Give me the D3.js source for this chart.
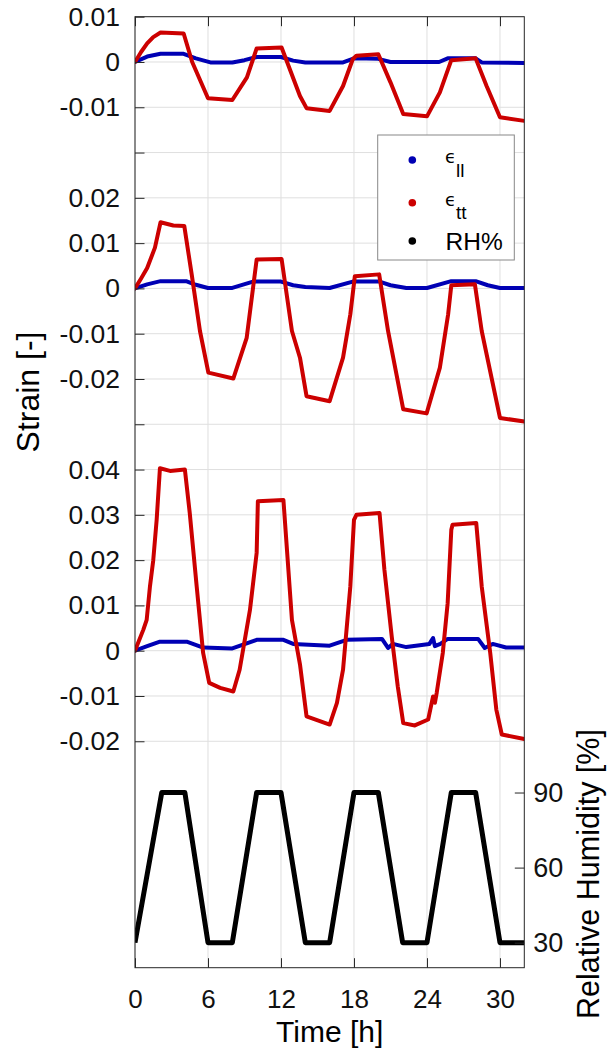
<!DOCTYPE html>
<html>
<head>
<meta charset="utf-8">
<script src="https://cdn.jsdelivr.net/npm/d3@7"></script>
<style>
  html, body { margin: 0; padding: 0; background: #fff; }
  svg { display: block; }
  text { font-family: "Liberation Sans", Arial, Helvetica, sans-serif; }
</style>
</head>
<body>
<svg id="chart" width="607" height="1052"></svg>
<script>
// ---- measured strain (time [h], strain [-]) for three specimens ----
const spec1_ll = [[0,0],[1,0.0012],[2.1,0.0018],[4,0.0018],[5,0.0008],[6.2,-0.0001],[8,-0.0001],[9,0.0004],[10,0.0011],[12,0.0011],[13,0.0003],[14,-0.0001],[17.1,-0.0001],[18,0.0008],[20,0.0007],[21,0],[25,0],[25.7,0.0008],[28,0.0008],[28.5,-0.0001],[32,-0.0002]];
const spec1_tt = [[0,0],[0.5,0.0022],[1,0.0041],[1.5,0.0055],[2.1,0.0065],[4,0.0063],[4.7,0],[6,-0.008],[8,-0.0084],[9.2,-0.0034],[10,0.003],[12.05,0.0032],[13.56,-0.0075],[14.1,-0.0102],[16,-0.0108],[17.1,-0.0053],[17.9,0.0006],[18.2,0.0014],[20,0.0017],[21,-0.0045],[22.05,-0.0115],[24,-0.012],[25.06,-0.0067],[26,0.0004],[28,0.0008],[28.9,-0.0053],[30,-0.0122],[32,-0.013]];

const spec2_ll = [[0,0],[1,0.0009],[2.1,0.0016],[4.2,0.0016],[5,0.0008],[6,0.0001],[8,0.0001],[9.7,0.0015],[12,0.0015],[13,0.0007],[14,0.0003],[16,0.0001],[17.9,0.0015],[20.1,0.0015],[21,0.0007],[22.3,0.0001],[24,0.0001],[26,0.0016],[28,0.0016],[29,0.0007],[30,0.0001],[32,0.0001]];
const spec2_tt = [[0,0],[0.5,0.0022],[1,0.0045],[1.64,0.009],[2.1,0.0146],[3.15,0.0139],[4.05,0.0138],[4.66,0.0031],[5.34,-0.0094],[6.03,-0.0186],[8.08,-0.0199],[9.18,-0.0109],[10,0.0064],[12.05,0.0065],[12.9,-0.0094],[13.56,-0.0153],[14.1,-0.0238],[16,-0.0249],[17.1,-0.0153],[17.7,-0.0057],[18.07,0.0027],[20.07,0.0031],[20.8,-0.0094],[22.05,-0.0267],[23.97,-0.0276],[25.06,-0.0175],[25.74,-0.0057],[26,0.0007],[27.94,0.0009],[28.5,-0.0094],[30,-0.0286],[32,-0.0294]];

const spec3_ll = [[0,0],[1,0.001],[2.05,0.002],[4.25,0.002],[5.6,0.0007],[8,0.0005],[10,0.0024],[12.2,0.0024],[13,0.0015],[16,0.0011],[17.4,0.0024],[20.3,0.0026],[20.8,0.0006],[21.2,0.0015],[22.3,0.0008],[24.2,0.0015],[24.5,0.0028],[24.65,0.001],[25.1,0.0015],[25.7,0.0026],[28.2,0.0026],[28.75,0.0006],[29.4,0.0015],[30.5,0.0007],[32,0.0007]];
const spec3_tt = [[0,0],[0.68,0.0046],[0.96,0.0068],[1.23,0.0142],[1.5,0.02],[1.78,0.0289],[2.05,0.0403],[2.88,0.0397],[4.1,0.04],[4.5,0.0304],[5.07,0.0142],[5.6,-0.0005],[6.1,-0.0071],[7,-0.0082],[8.08,-0.009],[8.6,-0.0042],[9.45,0.009],[10,0.0216],[10.1,0.033],[12.2,0.0333],[12.9,0.0068],[13.56,-0.003],[14.1,-0.0145],[16,-0.0163],[16.6,-0.0115],[17.1,-0.0042],[17.7,0.0142],[18,0.0289],[18.2,0.03],[20.1,0.0304],[20.5,0.0179],[21.1,0.0032],[21.6,-0.0079],[22.05,-0.016],[23,-0.0165],[24.1,-0.0152],[24.5,-0.0101],[24.65,-0.0115],[24.8,-0.0093],[25.3,-0.0005],[25.7,0.0105],[26,0.0267],[26.1,0.0278],[28.05,0.0282],[28.5,0.0142],[29.2,-0.0005],[29.7,-0.013],[30.15,-0.0185],[32,-0.0195]];

// ---- relative humidity program (time [h], RH [%]) ----
const rhProgram = [[0,30],[2.2,90],[4.1,90],[6,30],[8,30],[10,90],[12,90],[14,30],[16,30],[18,90],[20,90],[22,30],[24,30],[26,90],[28,90],[30,30],[32,30]];

// ---- axes ----
const timeTicks = [0, 6, 12, 18, 24, 30];
const rhTicks = [30, 60, 90];
// strain tick labels on the shared left axis, top to bottom (stacked specimens)
const strainTickLabels = ["0.01","0","-0.01","","0.02","0.01","0","-0.01","-0.02","","0.04","0.03","0.02","0.01","0","-0.01","-0.02"];
// vertical shift applied to each specimen so the three records stack on one axis
const stackShift = [0.13, 0.08, 0];

const legendItems = [
  { key: "ll", color: "#0000b4" },
  { key: "tt", color: "#cc0000" },
  { key: "RH%", color: "#000000" }
];

// ---- layout ----
const L = 135, R = 524.3, T = 16.7, B = 967.7;
const svg = d3.select("#chart");
svg.append("rect").attr("width", 607).attr("height", 1052).attr("fill", "#fff");

const x = d3.scaleLinear().domain([0, 32]).range([L, R]);
const yL = d3.scaleLinear().domain([-0.07, 0.14]).range([B, T]);
const yR = d3.scaleLinear().domain([20, 400]).range([B, T]);

const strainTickValues = d3.range(17).map(i => +(0.14 - i * 0.01).toFixed(2));

// grid
const grid = svg.append("g").attr("stroke", "#dfdfdf").attr("stroke-width", 1);
grid.selectAll("line.v").data(timeTicks).join("line")
  .attr("x1", d => x(d)).attr("x2", d => x(d)).attr("y1", T).attr("y2", B);
grid.selectAll("line.h").data(strainTickValues).join("line")
  .attr("x1", L).attr("x2", R).attr("y1", d => yL(d)).attr("y2", d => yL(d));

// clip
svg.append("clipPath").attr("id", "plotClip").append("rect")
  .attr("x", L).attr("y", T).attr("width", R - L).attr("height", B - T);
const plot = svg.append("g").attr("clip-path", "url(#plotClip)");

const strainLine = shift => d3.line().x(d => x(d[0])).y(d => yL(d[1] + shift));

const specimens = [
  { ll: spec1_ll, tt: spec1_tt },
  { ll: spec2_ll, tt: spec2_tt },
  { ll: spec3_ll, tt: spec3_tt }
];
specimens.forEach((s, i) => {
  plot.append("path").datum(s.ll).attr("d", strainLine(stackShift[i]))
    .attr("fill", "none").attr("stroke", legendItems[0].color).attr("stroke-width", 4)
    .attr("stroke-linejoin", "round").attr("stroke-linecap", "round");
});
specimens.forEach((s, i) => {
  plot.append("path").datum(s.tt).attr("d", strainLine(stackShift[i]))
    .attr("fill", "none").attr("stroke", legendItems[1].color).attr("stroke-width", 4)
    .attr("stroke-linejoin", "round").attr("stroke-linecap", "round");
});
plot.append("path").datum(rhProgram)
  .attr("d", d3.line().x(d => x(d[0])).y(d => yR(d[1])))
  .attr("fill", "none").attr("stroke", "#000").attr("stroke-width", 5)
  .attr("stroke-linejoin", "round");

// axes
const axisColor = "#262626";
const styleAxis = (g, size) => {
  g.select(".domain").remove();
  g.selectAll(".tick line").attr("stroke", axisColor);
  g.selectAll(".tick text").attr("fill", "#111").style("font-size", size + "px")
    .style("font-family", '"Liberation Sans", Arial, Helvetica, sans-serif');
};

svg.append("g").attr("transform", `translate(${L},0)`)
  .call(d3.axisLeft(yL).tickValues(strainTickValues)
    .tickFormat((d, i) => strainTickLabels[i]).tickSizeInner(-9.5).tickSizeOuter(0).tickPadding(15))
  .call(g => styleAxis(g, 26.5));

svg.append("g").attr("transform", `translate(${R},0)`)
  .call(d3.axisRight(yR).tickValues(rhTicks).tickSizeInner(-9.5).tickSizeOuter(0).tickPadding(9))
  .call(g => styleAxis(g, 27));

svg.append("g").attr("transform", `translate(0,${B})`)
  .call(d3.axisBottom(x).tickValues(timeTicks).tickSizeInner(-9.5).tickSizeOuter(0).tickPadding(22))
  .call(g => styleAxis(g, 26));

svg.append("g").attr("transform", `translate(0,${T})`)
  .call(d3.axisTop(x).tickValues(timeTicks).tickFormat("").tickSizeInner(-9.5).tickSizeOuter(0))
  .call(g => styleAxis(g, 26));

svg.append("rect").attr("x", L).attr("y", T).attr("width", R - L).attr("height", B - T)
  .attr("fill", "none").attr("stroke", axisColor).attr("stroke-width", 1);

// axis titles
svg.append("text").attr("transform", "translate(28,392) rotate(-90)")
  .attr("text-anchor", "middle").attr("dominant-baseline", "central")
  .style("font-size", "32px").attr("fill", "#000").text("Strain [-]");
svg.append("text").attr("transform", "translate(588,874) rotate(-90)")
  .attr("text-anchor", "middle").attr("dominant-baseline", "central")
  .style("font-size", "30.5px").attr("fill", "#000").text("Relative Humidity [%]");
svg.append("text").attr("x", (L + R) / 2).attr("y", 1041.5)
  .attr("text-anchor", "middle").style("font-size", "30px").attr("fill", "#000").text("Time [h]");

// legend
const lg = svg.append("g");
lg.append("rect").attr("x", 377.7).attr("y", 135).attr("width", 136.6).attr("height", 125)
  .attr("fill", "#fff").attr("stroke", "#888").attr("stroke-width", 1);
const rowY = [160, 202.7, 241];
legendItems.forEach((it, i) => {
  lg.append("circle").attr("cx", 412.3).attr("cy", rowY[i]).attr("r", 3.8).attr("fill", it.color);
  if (it.key === "RH%") {
    lg.append("text").attr("x", 445.5).attr("y", rowY[i] + 8.5)
      .style("font-size", "24.5px").attr("fill", "#000").text(it.key);
  } else {
    const t = lg.append("text").attr("x", 445).attr("y", rowY[i] + 3.3).attr("fill", "#000");
    t.append("tspan").style("font-family", '"DejaVu Sans", sans-serif').style("font-size", "18px").text("\u03F5");
    t.append("tspan").attr("dy", 13.4).style("font-size", "19px").text(it.key);
  }
});
</script>
</body>
</html>
